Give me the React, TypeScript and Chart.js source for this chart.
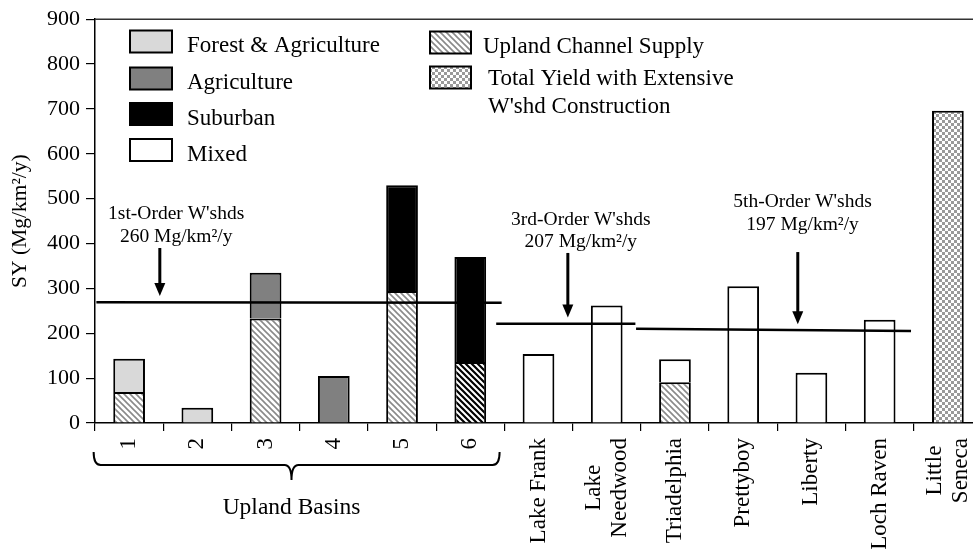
import React, { useEffect, useRef } from 'react';
import { Chart, registerables } from 'chart.js';

Chart.register(...registerables);

// ---------- data ----------
const categories: string[][] = [
  ['1'], ['2'], ['3'], ['4'], ['5'], ['6'],
  ['Lake Frank'], ['Lake', 'Needwood'], ['Triadelphia'], ['Prettyboy'],
  ['Liberty'], ['Loch Raven'], ['Little', 'Seneca'],
];

const channelSupply = [69, null, 233, null, 294, 136, null, null, 91, null, null, null, null];
const forestAgriculture = [74, 34, null, null, null, null, null, null, null, null, null, null, null];
const agriculture = [null, null, 102, 105, null, null, null, null, null, null, null, null, null];
const suburban = [null, null, null, null, 236, 234, null, null, null, null, null, null, null];
const mixed = [null, null, null, null, null, null, 154, 262, 51, 305, 112, 230, null];
const totalYield = [null, null, null, null, null, null, null, null, null, null, null, null, 696];

const yMin = 0;
const yMax = 900;
const yStep = 100;
const yTitle = 'SY (Mg/km²/y)';

const legendLeft = ['Forest & Agriculture', 'Agriculture', 'Suburban', 'Mixed'];
const legendRight = [['Upland Channel Supply'], ['Total Yield with Extensive', "W'shd Construction"]];

// mean yield lines by watershed order
const orderNames = ["1st-Order W'shds", "3rd-Order W'shds", "5th-Order W'shds"];
const orderMeans = ['260 Mg/km²/y', '207 Mg/km²/y', '197 Mg/km²/y'];
const meanStartX = [-0.48, 5.38, 7.43];
const meanEndX = [5.46, 7.42, 11.46];
const meanStartY = [269, 221, 210];
const meanEndY = [268, 221, 205];
const arrowX = [0.45, 6.43, 9.8];
const arrowTopY = [390, 379, 381];
const arrowTipY = [283, 235, 220];
const noteX = [0.69, 6.62, 9.87];
const noteLine1Y = [455, 442, 482];
const noteLine2Y = [404, 393, 431];

const groupLabel = 'Upland Basins';
const groupStart = -0.52;
const groupEnd = 5.43;
const groupMid = 2.38;

// ---------- styles ----------
const FONT = '"Liberation Serif", "Times New Roman", serif';

function makeHatch(color: string, lw: number, size: number): CanvasPattern {
  const c = document.createElement('canvas');
  c.width = size;
  c.height = size;
  const g = c.getContext('2d')!;
  g.fillStyle = '#ffffff';
  g.fillRect(0, 0, size, size);
  g.strokeStyle = color;
  g.lineWidth = lw;
  g.beginPath();
  for (const o of [-size, 0, size]) {
    g.moveTo(o - 2, -2);
    g.lineTo(o + size + 2, size + 2);
  }
  g.stroke();
  return g.createPattern(c, 'repeat')!;
}

function makeChecker(color: string, cell: number): CanvasPattern {
  const c = document.createElement('canvas');
  c.width = cell * 2;
  c.height = cell * 2;
  const g = c.getContext('2d')!;
  g.fillStyle = '#ffffff';
  g.fillRect(0, 0, cell * 2, cell * 2);
  g.fillStyle = color;
  g.fillRect(0, 0, cell, cell);
  g.fillRect(cell, cell, cell, cell);
  return g.createPattern(c, 'repeat')!;
}

export default function App() {
  const ref = useRef<HTMLCanvasElement | null>(null);

  useEffect(() => {
    const canvas = ref.current;
    if (!canvas) return;

    const lightHatch = makeHatch('#8a8a8a', 1.6, 6);
    const darkHatch = makeHatch('#000000', 2.2, 6);
    const checker = makeChecker('#9a9a9a', 3);
    const colForestAg = '#d9d9d9';
    const colAg = '#808080';
    const colSub = '#000000';
    const colMixed = '#ffffff';

    const barCommon = {
      type: 'bar' as const,
      borderColor: '#000000',
      borderWidth: 2,
      barPercentage: 0.465,
      categoryPercentage: 1,
      grouped: false,
      stack: 'bars',
      xAxisID: 'x',
      yAxisID: 'y',
      order: 1,
    };

    const lineSets = orderNames.map((name, i) => ({
      type: 'line' as const,
      label: name,
      data: [
        { x: meanStartX[i], y: meanStartY[i] },
        { x: meanEndX[i], y: meanEndY[i] },
      ],
      borderColor: '#000000',
      borderWidth: 2.5,
      pointRadius: 0,
      fill: false,
      xAxisID: 'xl',
      yAxisID: 'y',
      stack: 'mean' + i,
      order: -1,
    }));

    const overlay = {
      id: 'overlay',
      afterDraw(chart: any) {
        const ctx: CanvasRenderingContext2D = chart.ctx;
        const xs = chart.scales.x;
        const xl = chart.scales.xl;
        const ys = chart.scales.y;
        const { left, top, bottom } = chart.chartArea;
        ctx.save();

        // top frame
        ctx.strokeStyle = '#333333';
        ctx.lineWidth = 1.5;
        ctx.beginPath();
        ctx.moveTo(left, top);
        ctx.lineTo(chart.width, top);
        ctx.stroke();

        // arrows + notes
        ctx.fillStyle = '#000000';
        ctx.strokeStyle = '#000000';
        for (let i = 0; i < orderNames.length; i++) {
          const ax = xl.getPixelForValue(arrowX[i]);
          const y0 = ys.getPixelForValue(arrowTopY[i]);
          const y1 = ys.getPixelForValue(arrowTipY[i]);
          const head = 13;
          ctx.lineWidth = 3;
          ctx.beginPath();
          ctx.moveTo(ax, y0);
          ctx.lineTo(ax, y1 - head + 1);
          ctx.stroke();
          ctx.beginPath();
          ctx.moveTo(ax - 5.5, y1 - head);
          ctx.lineTo(ax + 5.5, y1 - head);
          ctx.lineTo(ax, y1);
          ctx.closePath();
          ctx.fill();

          ctx.font = '19.5px ' + FONT;
          ctx.textAlign = 'center';
          ctx.textBaseline = 'alphabetic';
          const nx = xl.getPixelForValue(noteX[i]);
          ctx.fillText(orderNames[i], nx, ys.getPixelForValue(noteLine1Y[i]));
          ctx.fillText(orderMeans[i], nx, ys.getPixelForValue(noteLine2Y[i]));
        }

        // x category labels (rotated)
        ctx.font = '23px ' + FONT;
        ctx.fillStyle = '#000000';
        ctx.textAlign = 'right';
        ctx.textBaseline = 'middle';
        const lh = 26;
        const labelTop = bottom + 15;
        categories.forEach((lines, i) => {
          const px = xs.getPixelForValue(i);
          const widths = lines.map((t) => ctx.measureText(t).width);
          const maxW = Math.max(...widths);
          ctx.save();
          ctx.translate(px, labelTop);
          ctx.rotate(-Math.PI / 2);
          lines.forEach((t, j) => {
            const off = (j - (lines.length - 1) / 2) * lh;
            ctx.fillText(t, -(maxW - widths[j]) / 2, off);
          });
          ctx.restore();
        });

        // brace for upland basins
        const bl = xl.getPixelForValue(groupStart);
        const br = xl.getPixelForValue(groupEnd);
        const bm = xl.getPixelForValue(groupMid);
        const yEnd = bottom + 29;
        const yBar = bottom + 42;
        const yTip = bottom + 57;
        const r = 7;
        ctx.strokeStyle = '#000000';
        ctx.lineWidth = 2;
        ctx.beginPath();
        ctx.moveTo(bl, yEnd);
        ctx.quadraticCurveTo(bl, yBar, bl + r, yBar);
        ctx.lineTo(bm - r, yBar);
        ctx.quadraticCurveTo(bm, yBar, bm, yTip);
        ctx.quadraticCurveTo(bm, yBar, bm + r, yBar);
        ctx.lineTo(br - r, yBar);
        ctx.quadraticCurveTo(br, yBar, br, yEnd);
        ctx.stroke();
        ctx.font = '23.5px ' + FONT;
        ctx.textAlign = 'center';
        ctx.textBaseline = 'alphabetic';
        ctx.fillText(groupLabel, bm, bottom + 91);

        // legend
        const leftFills: (string | CanvasPattern)[] = [colForestAg, colAg, colSub, colMixed];
        const leftBoxTop = [30.5, 67.5, 103, 139];
        const boxW = 42;
        const boxH = 22;
        ctx.font = '23px ' + FONT;
        ctx.textAlign = 'left';
        ctx.textBaseline = 'alphabetic';
        legendLeft.forEach((t, i) => {
          ctx.fillStyle = leftFills[i] as any;
          ctx.fillRect(130, leftBoxTop[i], boxW, boxH);
          ctx.strokeStyle = '#000000';
          ctx.lineWidth = 2;
          ctx.strokeRect(130, leftBoxTop[i], boxW, boxH);
          ctx.fillStyle = '#000000';
          ctx.fillText(t, 187, leftBoxTop[i] + boxH - 0.5);
        });
        const rightFills: (string | CanvasPattern)[] = [lightHatch, checker];
        const rightBoxTop = [31.5, 66.5];
        const rightTextX = [483, 488];
        legendRight.forEach((lines, i) => {
          ctx.fillStyle = rightFills[i] as any;
          ctx.fillRect(430, rightBoxTop[i], 41, boxH);
          ctx.strokeStyle = '#000000';
          ctx.lineWidth = 2;
          ctx.strokeRect(430, rightBoxTop[i], 41, boxH);
          ctx.fillStyle = '#000000';
          lines.forEach((t, j) => {
            ctx.fillText(t, rightTextX[i], rightBoxTop[i] + boxH - 0.5 - (i === 1 ? 3.5 : 0) + j * 28.5);
          });
        });

        ctx.restore();
      },
    };

    const chart = new Chart(canvas, {
      type: 'bar',
      data: {
        labels: categories,
        datasets: [
          {
            ...barCommon,
            label: 'Upland Channel Supply',
            data: channelSupply,
            backgroundColor: (c: any) => (c.dataIndex === 5 ? darkHatch : lightHatch),
          },
          { ...barCommon, label: 'Forest & Agriculture', data: forestAgriculture, backgroundColor: colForestAg },
          { ...barCommon, label: 'Agriculture', data: agriculture, backgroundColor: colAg },
          { ...barCommon, label: 'Suburban', data: suburban, backgroundColor: colSub },
          { ...barCommon, label: 'Mixed', data: mixed, backgroundColor: colMixed },
          {
            ...barCommon,
            label: "Total Yield with Extensive W'shd Construction",
            data: totalYield,
            backgroundColor: checker,
          },
          ...lineSets,
        ] as any,
      },
      options: {
        responsive: false,
        animation: false,
        devicePixelRatio: 1,
        layout: { padding: { top: 16, left: 0, right: 8, bottom: 0 } },
        plugins: {
          legend: { display: false },
          tooltip: { enabled: false },
          title: { display: false },
        },
        scales: {
          x: {
            type: 'category',
            stacked: true,
            offset: true,
            grid: {
              display: true,
              offset: true,
              drawOnChartArea: false,
              drawTicks: true,
              tickLength: 8,
              color: '#000000',
              lineWidth: 1.2,
            },
            border: { display: true, color: '#000000', width: 1.5 },
            ticks: { display: false, autoSkip: false },
            afterFit: (s: any) => {
              s.height = 132;
            },
          },
          xl: {
            type: 'linear',
            display: false,
            offset: false,
            grid: { offset: false },
            bounds: 'ticks',
            min: -0.5,
            max: 12.5,
          },
          y: {
            type: 'linear',
            stacked: true,
            min: yMin,
            max: yMax,
            ticks: {
              stepSize: yStep,
              color: '#000000',
              padding: 6,
              font: { family: FONT, size: 22 },
            },
            grid: {
              drawOnChartArea: false,
              drawTicks: true,
              tickLength: 9,
              color: '#000000',
              lineWidth: 1.2,
            },
            border: { display: true, color: '#000000', width: 1.5 },
            title: {
              display: true,
              text: yTitle,
              color: '#000000',
              font: { family: FONT, size: 21.5 },
              padding: { top: 7, bottom: 0 },
            },
            afterFit: (s: any) => {
              s.width = 95;
            },
          },
        },
      } as any,
      plugins: [overlay],
    });

    return () => chart.destroy();
  }, []);

  return (
    <div
      style={{
        position: 'fixed',
        left: 0,
        top: 0,
        width: 973,
        height: 555,
        overflow: 'hidden',
        background: '#ffffff',
      }}
    >
      <canvas ref={ref} width={990} height={555} style={{ display: 'block' }} />
    </div>
  );
}
